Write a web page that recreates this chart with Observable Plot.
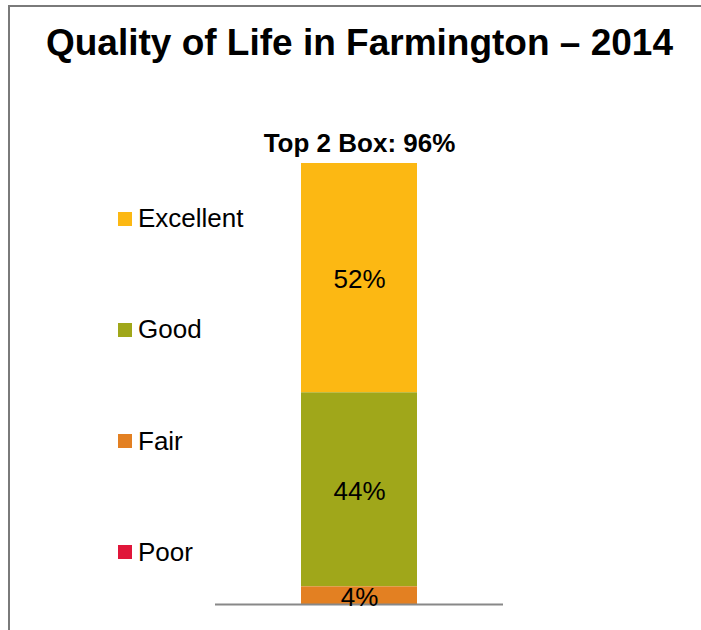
<!DOCTYPE html>
<html>
<head>
<meta charset="utf-8">
<script src="https://cdn.jsdelivr.net/npm/d3@7"></script>
<script src="https://cdn.jsdelivr.net/npm/@observablehq/plot@0.6"></script>
<style>
  html, body { margin: 0; padding: 0; background: #fff; overflow: hidden; }
  body { width: 701px; height: 630px; position: relative; font-family: "Liberation Sans", Arial, sans-serif; }
  #frame { position: absolute; left: 8px; top: 5px; width: 800px; height: 800px;
           border-left: 2px solid #7a7a7a; border-top: 2px solid #7a7a7a; }
  #title { position: absolute; left: 0; top: 23px; width: 719px; text-align: center;
           font-weight: bold; font-size: 37px; color: #000; line-height: 40px; }
  #chart { position: absolute; left: 0; top: 100px; }
  #legend { position: absolute; left: 118px; top: 163px; height: 445px; display: flex; flex-direction: column; }
  .item { flex: 1; display: flex; align-items: center; font-size: 26px; color: #000; }
  .sw { width: 14px; height: 14px; margin-right: 6px; }
</style>
</head>
<body>
<div id="frame"></div>
<div id="title">Quality of Life in Farmington – 2014</div>
<div id="chart"></div>
<div id="legend"></div>
<script>
const categories = ["Excellent", "Good", "Fair", "Poor"];
const values = [52, 44, 4, 0];
const colors = ["#FCB813", "#A0A71A", "#E38022", "#E0163A"];
const barLabel = "2014";
const topBoxLabel = "Top 2 Box: ";

const data = categories.map((c, i) => ({cat: c, value: values[i], x: barLabel}));
const top2 = values[0] + values[1];
const stackOrder = categories.slice().reverse();

const plot = Plot.plot({
  width: 701,
  height: 530,
  marginTop: 63,
  marginBottom: 26,
  marginLeft: 215,
  marginRight: 198,
  style: {fontFamily: "'Liberation Sans', Arial, sans-serif", background: "transparent"},
  x: {domain: [barLabel], padding: 0.4257, axis: null},
  y: {domain: [0, 100], axis: null},
  color: {domain: categories, range: colors},
  marks: [
    Plot.barY(data, Plot.stackY({x: "x", y: "value", z: "cat", fill: "cat", order: stackOrder})),
    Plot.ruleY([0], {stroke: "#888888", strokeWidth: 2}),
    Plot.text(data, Plot.stackY({
      x: "x", y: "value", z: "cat", order: stackOrder,
      text: d => d.value > 0 ? d.value + "%" : null,
      dy: 2, fontSize: 26, fill: "#000"
    })),
    Plot.text([top2], {x: () => barLabel, y: () => 100, text: d => topBoxLabel + d + "%",
      dy: -20, fontSize: 26, fontWeight: "bold", fill: "#000"})
  ]
});
document.getElementById("chart").appendChild(plot);

const legend = document.getElementById("legend");
categories.forEach((c, i) => {
  const row = document.createElement("div");
  row.className = "item";
  const sw = document.createElement("span");
  sw.className = "sw";
  sw.style.background = colors[i];
  row.appendChild(sw);
  row.appendChild(document.createTextNode(c));
  legend.appendChild(row);
});
</script>
</body>
</html>
